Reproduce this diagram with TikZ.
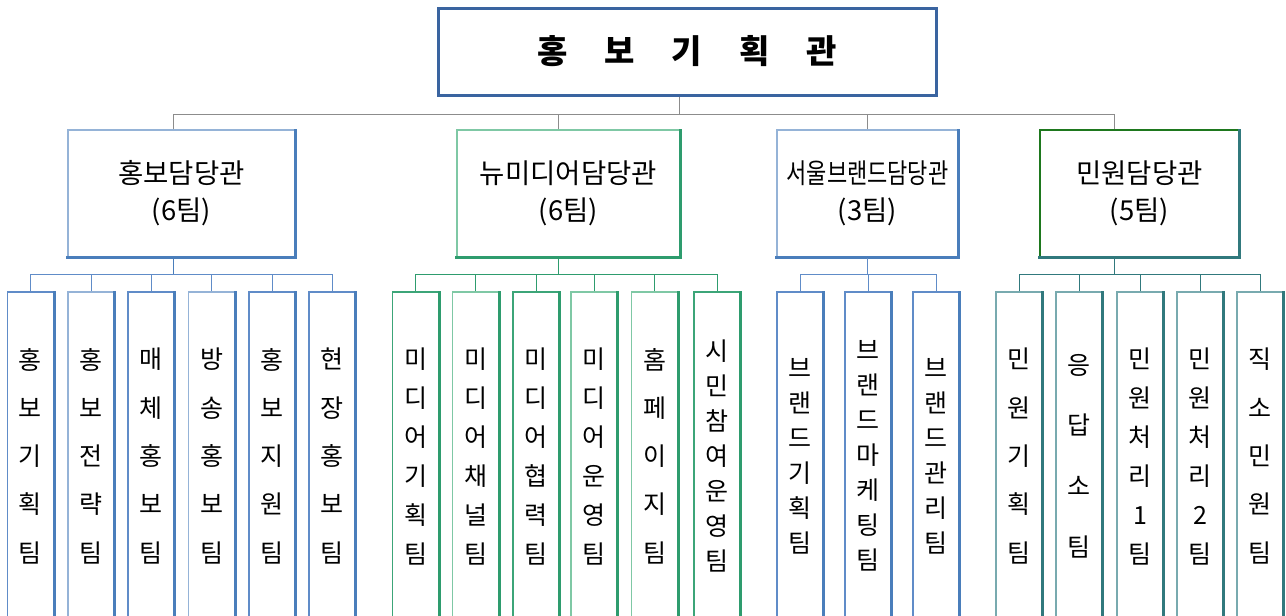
\documentclass[tikz,border=0pt]{standalone}
\usepackage{fontspec}
\setmainfont{Noto Sans CJK KR}
\usepackage{graphicx}
\usepackage{xcolor}

\definecolor{topblue}{RGB}{58,100,160}
\definecolor{blueL}{RGB}{149,179,215}
\definecolor{blueM}{RGB}{96,140,200}
\definecolor{blueD}{RGB}{74,126,187}
\definecolor{greenL}{RGB}{127,200,165}
\definecolor{greenM}{RGB}{60,165,120}
\definecolor{greenD}{RGB}{46,156,110}
\definecolor{darkgreen}{RGB}{30,120,30}
\definecolor{tealL}{RGB}{120,170,175}
\definecolor{tealD}{RGB}{49,121,125}
\definecolor{linkgray}{RGB}{140,140,140}

\tikzset{
  rimR/.style={append after command={(\tikzlastnode.north east) edge[draw=#1,line width=2.6] (\tikzlastnode.south east)}},
  rimRB/.style={append after command={(\tikzlastnode.north east) edge[draw=#1,line width=3.2] (\tikzlastnode.south east)
      (\tikzlastnode.south east) edge[draw=#1,line width=3.2,line cap=rect] (\tikzlastnode.south west)}}
}

\begin{document}
\begin{tikzpicture}[x=1pt,y=-1pt]
	    \tikzstyle{head}=[draw=topblue, line width=3, minimum width=498, minimum height=87, inner sep=0,
	        font={\fontsize{33}{40}\bfseries\selectfont\spaceskip=37pt\relax}]
	    \tikzstyle{office}=[draw, line width=1.4, minimum width=#1, minimum height=127, inner sep=0, align=center,
	        font=\fontsize{27.5}{37}\selectfont]
	    \tikzstyle{team}=[draw, line width=1.4, minimum width=46, minimum height=328, inner sep=0, align=center,
	        font=\fontsize{25}{#1}\selectfont]
	    \tikzstyle{link}=[draw, line width=1, linkgray]
	    \useasboundingbox (0,0) rectangle (1286,616);
	    % top
	    \node[head] (top) at (687,51.5) {홍 보 기 획 관};
	    % offices
	    \node[office=227, draw=blueL, rimRB=blueD] (m1) at (181.5,193.5) {홍보담당관\\(6팀)};
	    \node[office=223, draw=greenL, rimRB=greenD] (m2) at (568.5,193.5) {뉴미디어담당관\\(6팀)};
	    \node[office=181, draw=blueL, rimRB=blueD] (m3) at (867.5,193.5) {\scalebox{0.8}[1]{서울브랜드담당관}\\(3팀)};
	    \node[office=199, draw=darkgreen, rimRB=tealD] (m4) at (1139.5,193.5) {민원담당관\\(5팀)};
	    % teams
	    \node[team=48.3, draw=blueM, rimR=blueD] (a1) at (30.5,456) {홍\\보\\기\\획\\팀};
	    \node[team=48.3, draw=blueL, rimR=blueD] (a2) at (91,456) {홍\\보\\전\\략\\팀};
	    \node[team=48.3, draw=blueM, rimR=blueD] (a3) at (151,456) {매\\체\\홍\\보\\팀};
	    \node[team=48.3, draw=blueL, rimR=blueD] (a4) at (211.5,456) {방\\송\\홍\\보\\팀};
	    \node[team=48.3, draw=blueM, rimR=blueD] (a5) at (272,456) {홍\\보\\지\\원\\팀};
	    \node[team=48.3, draw=blueM, rimR=blueD] (a6) at (332,456) {현\\장\\홍\\보\\팀};
	    \node[team=39, draw=greenM, rimR=greenD] (b1) at (415.5,456) {미\\디\\어\\기\\획\\팀};
	    \node[team=39, draw=greenL, rimR=greenD] (b2) at (475.5,456) {미\\디\\어\\채\\널\\팀};
	    \node[team=39, draw=greenM, rimR=greenD] (b3) at (536,456) {미\\디\\어\\협\\력\\팀};
	    \node[team=39, draw=greenL, rimR=greenD] (b4) at (594,456) {미\\디\\어\\운\\영\\팀};
	    \node[team=48.3, draw=greenL, rimR=greenD] (b5) at (654.5,456) {홈\\페\\이\\지\\팀};
	    \node[team=35, draw=greenM, rimR=greenD] (b6) at (717,456) {시\\민\\참\\여\\운\\영\\팀};
	    \node[team=35, draw=blueM, rimR=blueD] (c1) at (800,456) {브\\랜\\드\\기\\획\\팀};
	    \node[team=35, draw=blueM, rimR=blueD] (c2) at (868,456) {브\\랜\\드\\마\\케\\팅\\팀};
	    \node[team=35, draw=blueM, rimR=blueD] (c3) at (936,456) {브\\랜\\드\\관\\리\\팀};
	    \node[team=48.3, draw=tealL, rimR=tealD] (d1) at (1019,456) {민\\원\\기\\획\\팀};
	    \node[team=60.7, draw=tealL, rimR=tealD] (d2) at (1079,456) {응\\답\\소\\팀};
	    \node[team=39, draw=tealL, rimR=tealD] (d3) at (1140,456) {민\\원\\처\\리\\1\\팀};
	    \node[team=39, draw=tealL, rimR=tealD] (d4) at (1200,456) {민\\원\\처\\리\\2\\팀};
	    \node[team=48.3, draw=tealL, rimR=tealD] (d5) at (1260,456) {직\\소\\민\\원\\팀};
	    % links
	    \draw[link] ([xshift=-8]top.south) -- ++(0,18) coordinate (hub);
	    \draw[link] ([xshift=-8.5]m1.north) |- (hub) -| ([xshift=-25.5]m4.north);
	    \draw[link] ([xshift=-10.5]m2.north) -- ([xshift=-10.5]m2.north |- hub);
	    \draw[link] (m3.north) -- (m3.north |- hub);
	    \draw[link, blueD] ([xshift=-8.5]m1.south) -- ++(0,17) coordinate (h1);
	    \draw[link, blueM] (a1.north) |- (h1) -| (a6.north) (a2.north) -- (a2.north |- h1) (a3.north) -- (a3.north |- h1)
	        (a4.north) -- (a4.north |- h1) (a5.north) -- (a5.north |- h1);
	    \draw[link, greenD] ([xshift=-10.5]m2.south) -- ++(0,17) coordinate (h2);
	    \draw[link, greenD] (b1.north) |- (h2) -| (b6.north) (b2.north) -- (b2.north |- h2) (b3.north) -- (b3.north |- h2)
	        (b4.north) -- (b4.north |- h2) (b5.north) -- (b5.north |- h2);
	    \draw[link, blueM] (m3.south) -- ++(0,17) coordinate (h3);
	    \draw[link, blueM] (c1.north) |- (h3) -| (c3.north) (c2.north) -- (c2.north |- h3);
	    \draw[link, tealD] ([xshift=-25.5]m4.south) -- ++(0,17) coordinate (h4);
	    \draw[link, tealD] (d1.north) |- (h4) -| (d5.north) (d2.north) -- (d2.north |- h4) (d3.north) -- (d3.north |- h4)
	        (d4.north) -- (d4.north |- h4);
	\end{tikzpicture}
\end{document}
